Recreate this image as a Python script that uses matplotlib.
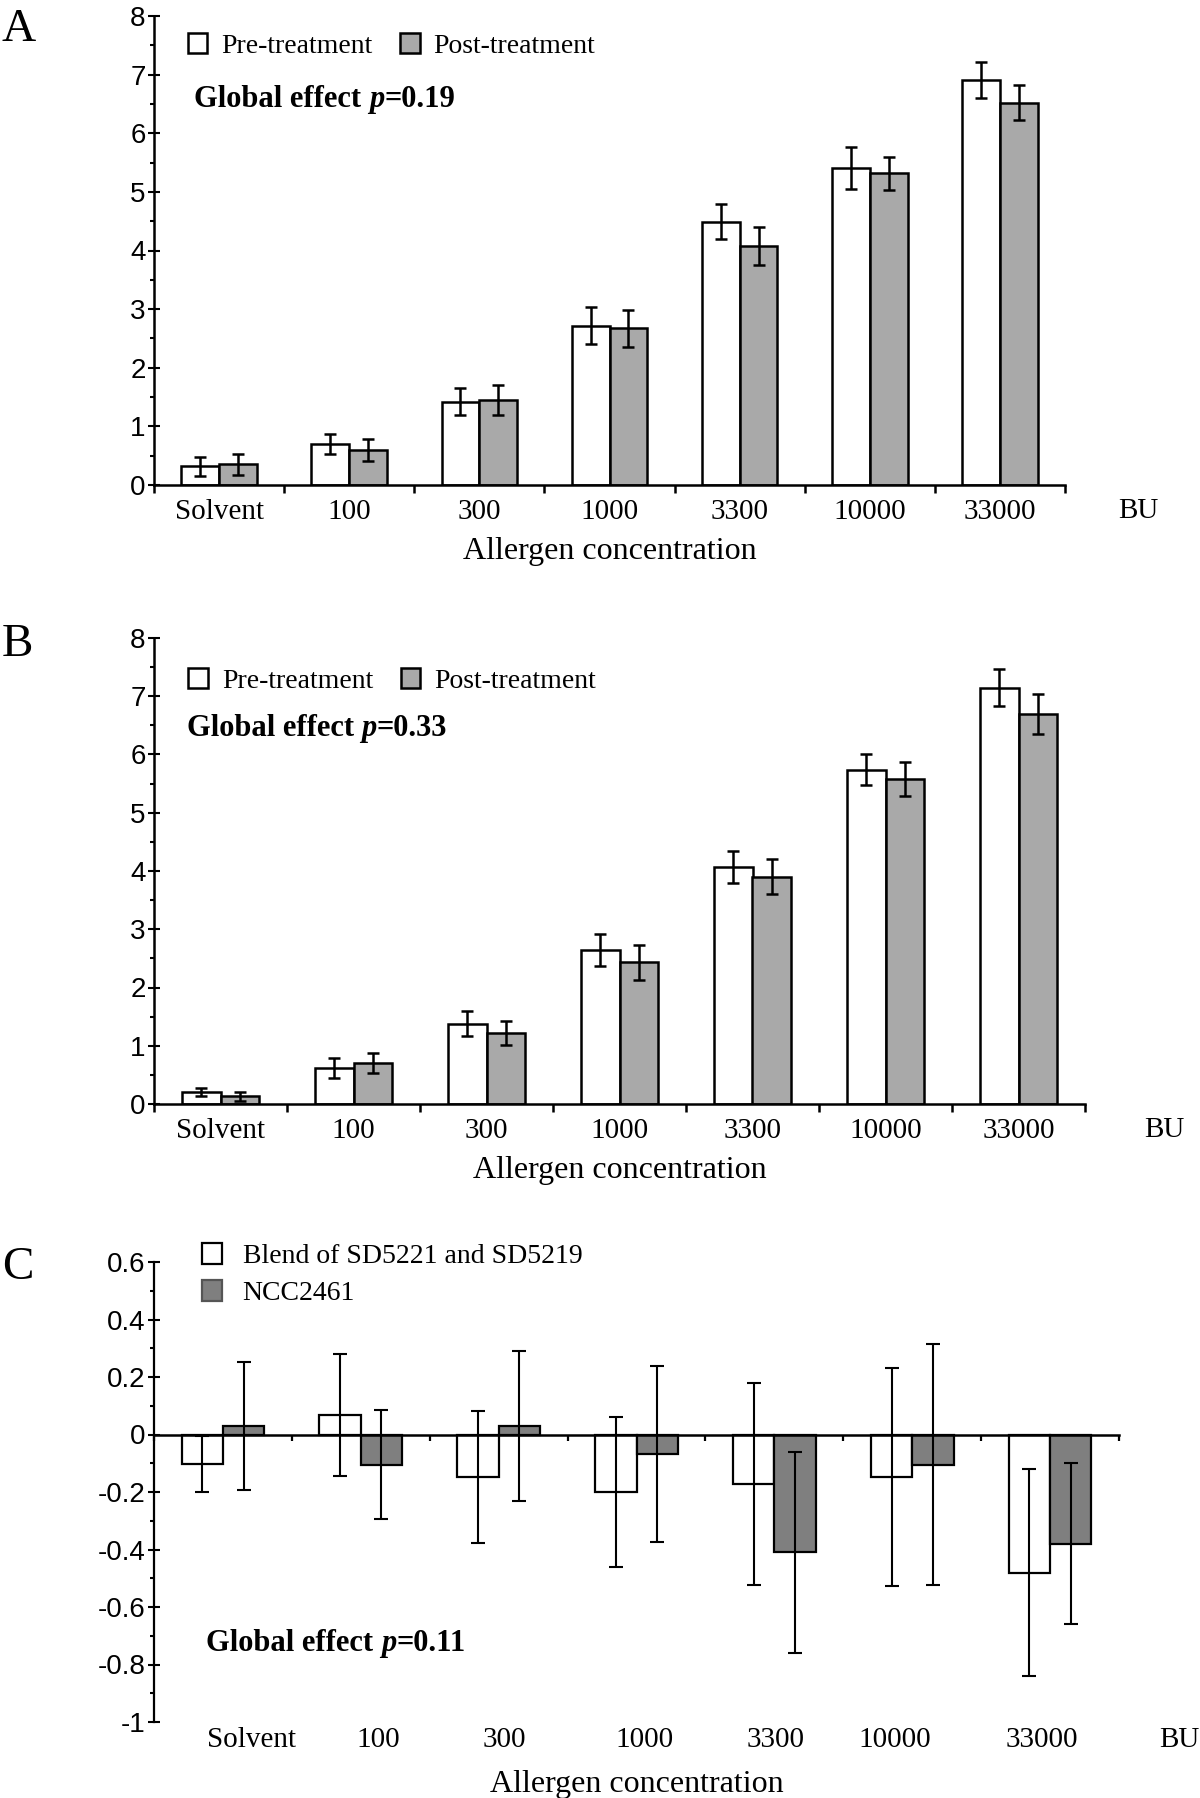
import matplotlib
matplotlib.use("Agg")
import matplotlib.pyplot as plt
import matplotlib.transforms as mtransforms
from matplotlib.patches import Patch
from matplotlib.ticker import MultipleLocator, FuncFormatter
import numpy as np

# ---------------- data ----------------
categories = ["Solvent", "100", "300", "1000", "3300", "10000", "33000"]

a_pre = [0.32, 0.70, 1.42, 2.72, 4.49, 5.41, 6.91]
a_pre_err = [0.16, 0.165, 0.23, 0.31, 0.30, 0.36, 0.31]
a_post = [0.35, 0.60, 1.45, 2.67, 4.08, 5.32, 6.52]
a_post_err = [0.18, 0.19, 0.25, 0.31, 0.32, 0.28, 0.30]

b_pre = [0.21, 0.62, 1.38, 2.64, 4.07, 5.74, 7.15]
b_pre_err = [0.07, 0.17, 0.22, 0.27, 0.28, 0.27, 0.32]
b_post = [0.13, 0.71, 1.22, 2.43, 3.90, 5.58, 6.70]
b_post_err = [0.08, 0.17, 0.20, 0.30, 0.30, 0.29, 0.34]

c_blend = [-0.103, 0.067, -0.148, -0.20, -0.172, -0.148, -0.48]
c_blend_err = [0.097, 0.212, 0.23, 0.26, 0.35, 0.38, 0.36]
c_ncc = [0.03, -0.105, 0.03, -0.068, -0.41, -0.105, -0.38]
c_ncc_err = [0.222, 0.19, 0.26, 0.307, 0.35, 0.42, 0.28]

# label positions in panel C (in category units; labels are shifted right of the bars)
c_label_pos = [0.21, 1.13, 2.04, 3.06, 4.01, 4.87, 5.94]

W, H = 1200, 1798
fig = plt.figure(figsize=(W / 100, H / 100), dpi=100)

SERIF = "Liberation Serif"
SANS = "Liberation Sans"


def axes_rect(left, right, top, bottom):
    return [left / W, 1 - bottom / H, (right - left) / W, (bottom - top) / H]


def style_y(ax, major, minor, fmt=None):
    ax.yaxis.set_major_locator(MultipleLocator(major))
    ax.yaxis.set_minor_locator(MultipleLocator(minor))
    ax.tick_params(axis="y", which="major", direction="inout", length=8, width=1.5,
                   labelsize=20, pad=2)
    ax.tick_params(axis="y", which="minor", direction="out", length=3, width=1.5)
    if fmt is not None:
        ax.yaxis.set_major_formatter(FuncFormatter(fmt))
    for lab in ax.get_yticklabels():
        lab.set_fontfamily(SANS)


def global_text(ax, x, y, pval):
    t1 = ax.text(x, y, "Global effect ", transform=ax.transAxes, fontfamily=SERIF,
                 fontweight="bold", fontsize=22, ha="left", va="bottom")
    t2 = ax.annotate("p", xy=(1, 0), xycoords=t1, fontfamily=SERIF, fontweight="bold",
                     fontstyle="italic", fontsize=22, ha="left", va="bottom")
    ax.annotate("=" + pval, xy=(1, 0), xycoords=t2, fontfamily=SERIF, fontweight="bold",
                fontsize=22, ha="left", va="bottom")


def prepost_panel(rect, pre, pre_err, post, post_err, leg_y, glob_xy, pval, letter, letter_xy,
                  bu_x):
    ax = fig.add_axes(rect)
    x = np.arange(len(categories))
    w = 0.29
    ax.bar(x - w / 2, pre, w, color="white", edgecolor="black", linewidth=1.8, zorder=2)
    ax.bar(x + w / 2, post, w, color="#a9a9a9", edgecolor="black", linewidth=1.8, zorder=2)
    ax.errorbar(x - w / 2, pre, yerr=pre_err, fmt="none", ecolor="black", elinewidth=1.8,
                capsize=4.5, capthick=1.8, zorder=3)
    ax.errorbar(x + w / 2, post, yerr=post_err, fmt="none", ecolor="black", elinewidth=1.8,
                capsize=4.5, capthick=1.8, zorder=3)
    ax.set_xlim(-0.5, len(categories) - 0.5)
    ax.set_ylim(0, 8)
    for s in ["top", "right"]:
        ax.spines[s].set_visible(False)
    for s in ["left", "bottom"]:
        ax.spines[s].set_linewidth(1.8)
    ax.set_xticks(x)
    ax.set_xticklabels(categories, fontfamily=SERIF, fontsize=21)
    ax.set_xticks(np.arange(len(categories) + 1) - 0.5, minor=True)
    ax.tick_params(axis="x", which="major", length=0, pad=10)
    ax.tick_params(axis="x", which="minor", direction="out", length=6, width=1.8)
    style_y(ax, 1, 0.5)
    ax.set_xlabel("Allergen concentration", fontfamily=SERIF, fontsize=23, labelpad=9)
    trans = mtransforms.blended_transform_factory(ax.transData, ax.transAxes)
    ax.text(bu_x, -0.055, "BU", transform=trans, fontfamily=SERIF, fontsize=21,
            ha="center", va="center", clip_on=False)
    handles = [Patch(facecolor="white", edgecolor="black", linewidth=1.8, label="Pre-treatment"),
               Patch(facecolor="#a9a9a9", edgecolor="black", linewidth=1.8, label="Post-treatment")]
    ax.legend(handles=handles, loc="center left", bbox_to_anchor=(0.037, leg_y), ncol=2,
              frameon=False, prop={"family": SERIF, "size": 20}, handlelength=0.7,
              handleheight=0.75, handletextpad=0.5, columnspacing=1.0, borderpad=0,
              borderaxespad=0)
    global_text(ax, glob_xy[0], glob_xy[1], pval)
    fig.text(letter_xy[0] / W, 1 - letter_xy[1] / H, letter, fontfamily=SERIF, fontsize=34,
             ha="left", va="center")
    return ax


# Panel A
prepost_panel(axes_rect(154, 1065, 16, 485), a_pre, a_pre_err, a_post, a_post_err,
              0.936, (0.044, 0.79), "0.19", "A", (2, 30), 7.06)
# Panel B
prepost_panel(axes_rect(154, 1085, 638, 1104), b_pre, b_pre_err, b_post, b_post_err,
              0.908, (0.035, 0.775), "0.33", "B", (2, 645), 7.1)

# Panel C
axc = fig.add_axes(axes_rect(154, 1119, 1262, 1722))
x = np.arange(len(categories))
w = 0.30
axc.bar(x - w / 2, c_blend, w, color="white", edgecolor="black", linewidth=1.6, zorder=2)
axc.bar(x + w / 2, c_ncc, w, color="#7f7f7f", edgecolor="black", linewidth=1.6, zorder=2)
axc.errorbar(x - w / 2, c_blend, yerr=c_blend_err, fmt="none", ecolor="black", elinewidth=1.5,
             capsize=5, capthick=1.5, zorder=3)
axc.errorbar(x + w / 2, c_ncc, yerr=c_ncc_err, fmt="none", ecolor="black", elinewidth=1.5,
             capsize=5, capthick=1.5, zorder=3)
axc.set_xlim(-0.5, len(categories) - 0.5)
axc.set_ylim(-1, 0.6)
for s in ["top", "right"]:
    axc.spines[s].set_visible(False)
axc.spines["left"].set_linewidth(1.6)
axc.spines["bottom"].set_position(("data", 0))
axc.spines["bottom"].set_linewidth(1.8)
axc.spines["bottom"].set_zorder(4)
axc.set_xticks([])
axc.set_xticks(np.arange(len(categories) + 1) - 0.5, minor=True)
axc.tick_params(axis="x", which="minor", direction="out", length=4.5, width=1.6)
style_y(axc, 0.2, 0.1, fmt=lambda v, p: ("%g" % round(v, 1)).replace("\u2212", "-"))
transc = mtransforms.blended_transform_factory(axc.transData, axc.transAxes)
for pos, c in zip(c_label_pos, categories):
    axc.text(pos, -0.04, c, transform=transc, fontfamily=SERIF, fontsize=21,
             ha="center", va="center", clip_on=False)
fig.text(1199 / W, 1 - 1740 / H, "BU", fontfamily=SERIF, fontsize=21,
         ha="right", va="center")
axc.text(0.5, -0.135, "Allergen concentration", transform=axc.transAxes, fontfamily=SERIF,
         fontsize=23, ha="center", va="center", clip_on=False)
handles_c = [Patch(facecolor="white", edgecolor="black", linewidth=1.6,
                   label="Blend of SD5221 and SD5219"),
             Patch(facecolor="#7f7f7f", edgecolor="#555555", linewidth=1.6, label="NCC2461")]
axc.legend(handles=handles_c, loc="center left", bbox_to_anchor=(0.05, 0.972), ncol=1,
           frameon=False, prop={"family": SERIF, "size": 20}, handlelength=0.7,
           handleheight=0.75, handletextpad=0.75, labelspacing=0.4, borderpad=0,
           borderaxespad=0)
global_text(axc, 0.054, 0.14, "0.11")
fig.text(2 / W, 1 - 1268 / H, "C", fontfamily=SERIF, fontsize=34, ha="left", va="center")

fig.savefig("out.png", dpi=100)
